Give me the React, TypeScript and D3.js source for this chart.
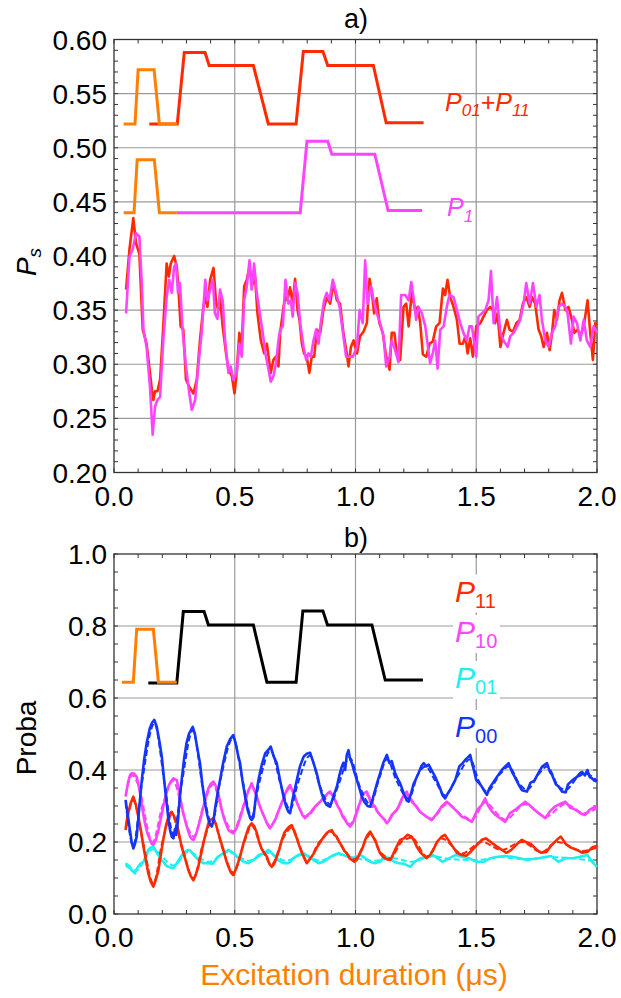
import React from "react";
import * as d3 from "d3";

// ---------- data (t in µs, value) ----------
const topRed: [number, number][] = [
  [0.05,0.369],[0.064,0.406],[0.08,0.435],[0.091,0.412],[0.105,0.402],[0.119,0.332],[0.135,0.319],[0.149,0.292],[0.157,0.276],[0.163,0.267],[0.17,0.275],[0.18,0.275],[0.191,0.286],[0.204,0.335],[0.218,0.393],[0.227,0.381],[0.235,0.393],[0.249,0.4],[0.26,0.39],[0.268,0.366],[0.276,0.335],[0.287,0.332],[0.298,0.286],[0.312,0.279],[0.329,0.273],[0.343,0.286],[0.356,0.322],[0.37,0.353],[0.378,0.362],[0.387,0.353],[0.398,0.378],[0.412,0.389],[0.423,0.356],[0.432,0.35],[0.439,0.362],[0.45,0.335],[0.464,0.31],[0.474,0.295],[0.488,0.289],[0.499,0.273],[0.508,0.292],[0.519,0.329],[0.529,0.316],[0.539,0.372],[0.55,0.378],[0.561,0.39],[0.572,0.373],[0.584,0.381],[0.594,0.347],[0.608,0.322],[0.622,0.31],[0.633,0.319],[0.64,0.307],[0.649,0.292],[0.66,0.304],[0.671,0.307],[0.681,0.298],[0.688,0.329],[0.702,0.353],[0.71,0.362],[0.718,0.359],[0.729,0.371],[0.74,0.356],[0.75,0.379],[0.76,0.35],[0.768,0.341],[0.778,0.319],[0.787,0.31],[0.798,0.307],[0.809,0.292],[0.819,0.307],[0.829,0.307],[0.84,0.332],[0.854,0.329],[0.867,0.35],[0.881,0.362],[0.895,0.356],[0.909,0.375],[0.923,0.359],[0.936,0.356],[0.95,0.329],[0.964,0.31],[0.971,0.298],[0.981,0.316],[0.992,0.322],[1.006,0.31],[1.019,0.326],[1.033,0.33],[1.047,0.338],[1.058,0.379],[1.068,0.366],[1.077,0.347],[1.088,0.361],[1.099,0.338],[1.113,0.329],[1.127,0.307],[1.141,0.295],[1.15,0.329],[1.161,0.329],[1.171,0.31],[1.185,0.304],[1.199,0.353],[1.21,0.356],[1.22,0.335],[1.233,0.366],[1.247,0.35],[1.258,0.353],[1.268,0.338],[1.279,0.309],[1.293,0.307],[1.307,0.319],[1.32,0.321],[1.334,0.335],[1.348,0.338],[1.362,0.37],[1.371,0.364],[1.381,0.378],[1.392,0.362],[1.406,0.353],[1.42,0.341],[1.431,0.319],[1.445,0.319],[1.455,0.326],[1.464,0.31],[1.475,0.324],[1.486,0.307],[1.5,0.335],[1.517,0.338],[1.53,0.344],[1.544,0.35],[1.558,0.353],[1.569,0.35],[1.578,0.338],[1.588,0.347],[1.6,0.316],[1.613,0.329],[1.627,0.341],[1.638,0.332],[1.652,0.33],[1.666,0.338],[1.68,0.341],[1.693,0.356],[1.707,0.362],[1.721,0.353],[1.731,0.362],[1.744,0.356],[1.758,0.332],[1.769,0.326],[1.779,0.316],[1.793,0.329],[1.804,0.313],[1.814,0.329],[1.823,0.35],[1.834,0.341],[1.845,0.359],[1.855,0.366],[1.869,0.35],[1.882,0.353],[1.896,0.341],[1.906,0.329],[1.92,0.332],[1.931,0.326],[1.945,0.335],[1.961,0.359],[1.972,0.329],[1.983,0.304],[1.993,0.338],[2.0,0.336]
];

const topPink: [number, number][] = [
  [0.05,0.347],[0.064,0.399],[0.077,0.406],[0.091,0.421],[0.105,0.418],[0.115,0.375],[0.122,0.332],[0.135,0.316],[0.149,0.279],[0.16,0.235],[0.17,0.261],[0.18,0.267],[0.191,0.27],[0.204,0.322],[0.218,0.362],[0.229,0.378],[0.239,0.366],[0.249,0.39],[0.257,0.393],[0.265,0.366],[0.273,0.375],[0.285,0.329],[0.298,0.298],[0.312,0.273],[0.322,0.258],[0.336,0.267],[0.349,0.298],[0.363,0.329],[0.378,0.378],[0.387,0.359],[0.398,0.369],[0.409,0.378],[0.418,0.347],[0.428,0.342],[0.439,0.369],[0.45,0.359],[0.46,0.322],[0.474,0.292],[0.483,0.298],[0.494,0.286],[0.508,0.292],[0.519,0.319],[0.529,0.307],[0.539,0.359],[0.55,0.372],[0.561,0.396],[0.57,0.369],[0.58,0.393],[0.591,0.366],[0.602,0.35],[0.616,0.329],[0.627,0.31],[0.64,0.295],[0.649,0.284],[0.66,0.289],[0.671,0.301],[0.681,0.322],[0.688,0.332],[0.699,0.335],[0.71,0.378],[0.722,0.356],[0.732,0.359],[0.74,0.344],[0.75,0.375],[0.76,0.366],[0.771,0.338],[0.785,0.316],[0.796,0.304],[0.805,0.31],[0.815,0.307],[0.826,0.322],[0.837,0.332],[0.847,0.319],[0.856,0.338],[0.87,0.359],[0.881,0.366],[0.892,0.359],[0.906,0.378],[0.92,0.366],[0.934,0.353],[0.948,0.329],[0.961,0.307],[0.975,0.307],[0.989,0.307],[1.006,0.316],[1.017,0.35],[1.03,0.338],[1.04,0.396],[1.05,0.356],[1.064,0.372],[1.075,0.359],[1.088,0.347],[1.102,0.338],[1.116,0.326],[1.127,0.298],[1.141,0.307],[1.15,0.322],[1.164,0.313],[1.178,0.302],[1.189,0.364],[1.206,0.364],[1.22,0.359],[1.231,0.376],[1.24,0.362],[1.251,0.341],[1.261,0.353],[1.275,0.347],[1.289,0.335],[1.3,0.316],[1.309,0.301],[1.32,0.31],[1.33,0.322],[1.34,0.296],[1.351,0.332],[1.365,0.335],[1.378,0.353],[1.389,0.364],[1.406,0.362],[1.42,0.35],[1.434,0.338],[1.447,0.329],[1.461,0.322],[1.472,0.335],[1.482,0.335],[1.5,0.307],[1.509,0.344],[1.523,0.347],[1.537,0.35],[1.551,0.359],[1.561,0.386],[1.572,0.338],[1.586,0.362],[1.6,0.329],[1.613,0.322],[1.63,0.316],[1.641,0.326],[1.655,0.329],[1.669,0.335],[1.682,0.341],[1.696,0.356],[1.707,0.375],[1.721,0.356],[1.735,0.375],[1.749,0.353],[1.762,0.364],[1.772,0.341],[1.786,0.322],[1.8,0.316],[1.813,0.329],[1.827,0.335],[1.841,0.353],[1.855,0.356],[1.869,0.353],[1.878,0.347],[1.892,0.319],[1.903,0.344],[1.917,0.338],[1.931,0.322],[1.945,0.341],[1.958,0.322],[1.972,0.316],[1.986,0.335],[2.0,0.329]
];

// pulse schematics
const pulseOrangeTop: [number, number][] = [[0.04,0.522],[0.087,0.522],[0.1,0.572],[0.166,0.572],[0.188,0.522],[0.262,0.522]];
const pulseRedTop: [number, number][] = [[0.146,0.522],[0.262,0.522],[0.291,0.588],[0.377,0.588],[0.394,0.576],[0.577,0.576],[0.639,0.522],[0.754,0.522],[0.784,0.589],[0.865,0.589],[0.885,0.576],[1.074,0.576],[1.127,0.523],[1.282,0.523]];
const pulseOrangeP1: [number, number][] = [[0.04,0.44],[0.083,0.44],[0.096,0.489],[0.167,0.489],[0.188,0.44],[0.26,0.44]];
const pulsePinkP1: [number, number][] = [[0.26,0.44],[0.771,0.44],[0.799,0.506],[0.885,0.506],[0.902,0.494],[1.08,0.494],[1.135,0.442],[1.276,0.442]];
const pulseOrangeBot: [number, number][] = [[0.033,0.644],[0.08,0.644],[0.094,0.791],[0.163,0.791],[0.184,0.644],[0.26,0.644]];
const pulseBlackBot: [number, number][] = [[0.142,0.642],[0.26,0.642],[0.287,0.84],[0.373,0.84],[0.391,0.803],[0.577,0.803],[0.633,0.644],[0.754,0.644],[0.782,0.842],[0.865,0.842],[0.884,0.803],[1.068,0.803],[1.123,0.65],[1.279,0.65]];

const p00: [number, number][] = [
  [0.048,0.317],[0.056,0.28],[0.066,0.233],[0.073,0.2],[0.08,0.182],[0.087,0.195],[0.094,0.215],[0.104,0.29],[0.115,0.372],[0.125,0.43],[0.135,0.474],[0.148,0.515],[0.158,0.532],[0.167,0.539],[0.177,0.52],[0.188,0.48],[0.198,0.437],[0.208,0.37],[0.218,0.307],[0.225,0.265],[0.232,0.233],[0.239,0.215],[0.246,0.21],[0.252,0.235],[0.258,0.22],[0.265,0.26],[0.272,0.32],[0.28,0.372],[0.29,0.43],[0.3,0.474],[0.31,0.5],[0.318,0.51],[0.326,0.52],[0.335,0.5],[0.345,0.46],[0.356,0.419],[0.366,0.36],[0.377,0.307],[0.386,0.275],[0.395,0.252],[0.405,0.243],[0.412,0.26],[0.42,0.3],[0.43,0.34],[0.439,0.372],[0.452,0.42],[0.467,0.465],[0.48,0.485],[0.494,0.497],[0.505,0.47],[0.514,0.44],[0.522,0.419],[0.532,0.37],[0.543,0.326],[0.553,0.29],[0.564,0.266],[0.57,0.261],[0.578,0.27],[0.588,0.33],[0.598,0.372],[0.612,0.415],[0.626,0.446],[0.638,0.455],[0.649,0.465],[0.66,0.44],[0.674,0.419],[0.688,0.37],[0.702,0.326],[0.712,0.3],[0.722,0.284],[0.729,0.28],[0.74,0.32],[0.757,0.372],[0.77,0.41],[0.785,0.437],[0.798,0.445],[0.812,0.448],[0.826,0.42],[0.84,0.39],[0.85,0.36],[0.86,0.335],[0.87,0.315],[0.88,0.303],[0.895,0.298],[0.91,0.33],[0.923,0.354],[0.933,0.385],[0.943,0.409],[0.95,0.42],[0.957,0.4],[0.964,0.442],[0.971,0.455],[0.978,0.43],[0.985,0.419],[0.995,0.395],[1.006,0.372],[1.016,0.35],[1.026,0.326],[1.038,0.31],[1.05,0.3],[1.061,0.298],[1.071,0.32],[1.081,0.344],[1.092,0.37],[1.102,0.391],[1.115,0.42],[1.13,0.442],[1.14,0.42],[1.15,0.425],[1.165,0.39],[1.175,0.375],[1.185,0.363],[1.2,0.335],[1.212,0.315],[1.22,0.312],[1.232,0.34],[1.24,0.36],[1.25,0.375],[1.261,0.391],[1.272,0.41],[1.282,0.419],[1.293,0.41],[1.303,0.415],[1.315,0.4],[1.33,0.381],[1.35,0.35],[1.36,0.33],[1.371,0.321],[1.382,0.335],[1.392,0.345],[1.413,0.372],[1.43,0.41],[1.445,0.42],[1.454,0.428],[1.465,0.435],[1.475,0.442],[1.482,0.42],[1.49,0.4],[1.5,0.372],[1.51,0.365],[1.523,0.354],[1.535,0.34],[1.544,0.331],[1.555,0.35],[1.565,0.36],[1.575,0.37],[1.59,0.385],[1.606,0.4],[1.62,0.41],[1.634,0.419],[1.648,0.395],[1.66,0.38],[1.675,0.36],[1.689,0.344],[1.71,0.34],[1.725,0.365],[1.74,0.37],[1.752,0.385],[1.772,0.409],[1.793,0.419],[1.805,0.395],[1.815,0.385],[1.83,0.36],[1.84,0.355],[1.855,0.34],[1.87,0.338],[1.88,0.36],[1.895,0.37],[1.917,0.381],[1.928,0.39],[1.938,0.395],[1.95,0.385],[1.96,0.4],[1.97,0.38],[1.979,0.377],[1.99,0.37],[2.0,0.368]
];
const p00Sim: [number, number][] = [[0.048,0.31],[0.08,0.19],[0.115,0.36],[0.167,0.53],[0.21,0.36],[0.246,0.22],[0.28,0.36],[0.326,0.51],[0.37,0.34],[0.405,0.25],[0.44,0.37],[0.494,0.49],[0.53,0.38],[0.57,0.27],[0.6,0.36],[0.649,0.455],[0.69,0.36],[0.729,0.29],[0.76,0.36],[0.812,0.44],[0.85,0.36],[0.895,0.305],[0.93,0.36],[0.975,0.435],[1.02,0.35],[1.061,0.305],[1.1,0.38],[1.13,0.43],[1.17,0.37],[1.22,0.32],[1.26,0.39],[1.29,0.41],[1.33,0.37],[1.371,0.33],[1.42,0.38],[1.475,0.43],[1.51,0.37],[1.544,0.34],[1.6,0.39],[1.634,0.41],[1.68,0.36],[1.71,0.345],[1.76,0.39],[1.793,0.41],[1.84,0.355],[1.87,0.345],[1.92,0.38],[1.95,0.39],[2.0,0.37]];

const p10: [number, number][] = [
  [0.048,0.326],[0.059,0.368],[0.066,0.385],[0.073,0.391],[0.083,0.39],[0.094,0.381],[0.101,0.36],[0.108,0.335],[0.118,0.29],[0.128,0.252],[0.138,0.225],[0.149,0.206],[0.156,0.195],[0.163,0.192],[0.173,0.205],[0.184,0.233],[0.194,0.265],[0.204,0.298],[0.215,0.33],[0.225,0.354],[0.235,0.368],[0.246,0.377],[0.26,0.372],[0.267,0.35],[0.273,0.326],[0.284,0.29],[0.294,0.261],[0.305,0.235],[0.315,0.215],[0.322,0.208],[0.329,0.206],[0.339,0.22],[0.349,0.243],[0.36,0.27],[0.37,0.298],[0.38,0.325],[0.391,0.349],[0.401,0.362],[0.412,0.368],[0.422,0.355],[0.432,0.335],[0.443,0.3],[0.453,0.27],[0.464,0.25],[0.474,0.233],[0.484,0.228],[0.494,0.224],[0.505,0.235],[0.515,0.252],[0.526,0.275],[0.536,0.298],[0.547,0.322],[0.557,0.344],[0.565,0.355],[0.57,0.363],[0.58,0.345],[0.591,0.326],[0.601,0.305],[0.612,0.285],[0.622,0.27],[0.633,0.252],[0.646,0.238],[0.656,0.248],[0.667,0.261],[0.678,0.28],[0.688,0.298],[0.698,0.315],[0.709,0.335],[0.72,0.35],[0.729,0.358],[0.74,0.34],[0.75,0.325],[0.76,0.305],[0.771,0.289],[0.78,0.275],[0.791,0.266],[0.801,0.275],[0.812,0.28],[0.822,0.29],[0.833,0.298],[0.843,0.305],[0.854,0.312],[0.864,0.32],[0.874,0.326],[0.885,0.335],[0.895,0.34],[0.905,0.33],[0.915,0.315],[0.926,0.3],[0.936,0.289],[0.947,0.27],[0.957,0.261],[0.967,0.25],[0.978,0.243],[0.99,0.255],[1.0,0.27],[1.013,0.298],[1.023,0.32],[1.033,0.335],[1.047,0.34],[1.058,0.32],[1.068,0.298],[1.08,0.3],[1.09,0.285],[1.109,0.27],[1.12,0.262],[1.13,0.252],[1.14,0.26],[1.15,0.275],[1.171,0.289],[1.18,0.3],[1.19,0.318],[1.2,0.33],[1.212,0.34],[1.222,0.325],[1.235,0.31],[1.254,0.298],[1.265,0.285],[1.275,0.28],[1.295,0.27],[1.316,0.261],[1.337,0.279],[1.348,0.29],[1.358,0.3],[1.378,0.312],[1.39,0.305],[1.4,0.298],[1.42,0.285],[1.441,0.27],[1.46,0.265],[1.482,0.256],[1.495,0.275],[1.505,0.29],[1.523,0.303],[1.537,0.321],[1.55,0.3],[1.565,0.285],[1.58,0.275],[1.599,0.266],[1.62,0.256],[1.64,0.28],[1.661,0.289],[1.68,0.3],[1.703,0.312],[1.72,0.303],[1.74,0.29],[1.76,0.28],[1.786,0.266],[1.805,0.285],[1.825,0.298],[1.845,0.305],[1.869,0.312],[1.89,0.295],[1.91,0.29],[1.931,0.28],[1.95,0.275],[1.97,0.29],[1.993,0.298],[2.0,0.3]
];
const p10Sim: [number, number][] = [[0.048,0.33],[0.075,0.385],[0.1,0.36],[0.16,0.2],[0.2,0.3],[0.245,0.37],[0.29,0.27],[0.33,0.215],[0.37,0.3],[0.41,0.36],[0.45,0.28],[0.494,0.23],[0.53,0.29],[0.57,0.355],[0.61,0.29],[0.646,0.245],[0.69,0.3],[0.729,0.35],[0.77,0.29],[0.795,0.27],[0.85,0.31],[0.895,0.335],[0.94,0.285],[0.978,0.25],[1.02,0.31],[1.047,0.33],[1.09,0.285],[1.13,0.26],[1.17,0.29],[1.212,0.33],[1.26,0.29],[1.316,0.265],[1.378,0.305],[1.44,0.275],[1.482,0.262],[1.537,0.31],[1.6,0.27],[1.62,0.262],[1.703,0.305],[1.786,0.27],[1.869,0.305],[1.95,0.28],[2.0,0.295]];

const p11: [number, number][] = [
  [0.048,0.233],[0.055,0.27],[0.062,0.289],[0.07,0.31],[0.08,0.326],[0.09,0.305],[0.101,0.27],[0.112,0.23],[0.122,0.187],[0.132,0.15],[0.142,0.113],[0.152,0.09],[0.163,0.076],[0.173,0.095],[0.184,0.122],[0.194,0.165],[0.204,0.206],[0.215,0.245],[0.225,0.27],[0.232,0.28],[0.239,0.284],[0.25,0.27],[0.26,0.252],[0.27,0.22],[0.28,0.187],[0.294,0.155],[0.308,0.122],[0.318,0.105],[0.329,0.094],[0.339,0.11],[0.349,0.131],[0.36,0.165],[0.37,0.196],[0.38,0.225],[0.391,0.252],[0.401,0.262],[0.412,0.266],[0.422,0.25],[0.432,0.225],[0.443,0.2],[0.453,0.178],[0.464,0.15],[0.474,0.131],[0.484,0.115],[0.494,0.108],[0.505,0.125],[0.515,0.145],[0.526,0.17],[0.536,0.196],[0.547,0.22],[0.557,0.24],[0.57,0.252],[0.58,0.245],[0.591,0.226],[0.601,0.2],[0.612,0.18],[0.622,0.17],[0.633,0.159],[0.643,0.14],[0.653,0.131],[0.664,0.14],[0.674,0.159],[0.685,0.18],[0.695,0.206],[0.705,0.225],[0.715,0.235],[0.726,0.243],[0.736,0.247],[0.747,0.228],[0.757,0.21],[0.767,0.19],[0.778,0.17],[0.788,0.155],[0.798,0.141],[0.808,0.15],[0.819,0.16],[0.829,0.17],[0.84,0.185],[0.85,0.195],[0.86,0.206],[0.87,0.215],[0.881,0.225],[0.891,0.23],[0.902,0.233],[0.912,0.22],[0.922,0.215],[0.933,0.2],[0.943,0.19],[0.954,0.175],[0.964,0.169],[0.975,0.155],[0.985,0.15],[0.995,0.145],[1.005,0.15],[1.019,0.169],[1.03,0.185],[1.04,0.206],[1.05,0.22],[1.061,0.229],[1.072,0.215],[1.082,0.205],[1.092,0.185],[1.102,0.169],[1.115,0.158],[1.13,0.152],[1.144,0.15],[1.155,0.165],[1.165,0.18],[1.185,0.206],[1.2,0.21],[1.215,0.22],[1.233,0.215],[1.245,0.2],[1.255,0.185],[1.27,0.17],[1.295,0.155],[1.31,0.165],[1.32,0.175],[1.337,0.2],[1.357,0.215],[1.37,0.22],[1.38,0.21],[1.4,0.19],[1.42,0.17],[1.44,0.164],[1.46,0.162],[1.48,0.175],[1.5,0.19],[1.523,0.206],[1.54,0.21],[1.56,0.2],[1.58,0.19],[1.606,0.178],[1.625,0.17],[1.645,0.178],[1.67,0.195],[1.689,0.206],[1.705,0.2],[1.725,0.195],[1.751,0.178],[1.77,0.17],[1.79,0.172],[1.81,0.19],[1.834,0.206],[1.85,0.215],[1.87,0.195],[1.89,0.185],[1.917,0.178],[1.94,0.17],[1.96,0.172],[1.98,0.185],[2.0,0.19]
];
const p11Sim: [number, number][] = [[0.048,0.24],[0.08,0.315],[0.12,0.2],[0.163,0.085],[0.2,0.2],[0.239,0.275],[0.28,0.19],[0.329,0.1],[0.37,0.2],[0.41,0.26],[0.45,0.18],[0.494,0.115],[0.54,0.2],[0.57,0.245],[0.61,0.185],[0.653,0.138],[0.7,0.21],[0.736,0.24],[0.78,0.17],[0.8,0.148],[0.85,0.2],[0.9,0.228],[0.95,0.18],[0.995,0.152],[1.04,0.2],[1.061,0.222],[1.1,0.175],[1.144,0.155],[1.19,0.2],[1.233,0.212],[1.295,0.16],[1.357,0.21],[1.44,0.168],[1.523,0.2],[1.606,0.178],[1.689,0.2],[1.77,0.172],[1.834,0.2],[1.94,0.175],[2.0,0.185]];

const p01: [number, number][] = [
  [0.048,0.141],[0.058,0.135],[0.066,0.131],[0.075,0.12],[0.087,0.113],[0.094,0.125],[0.1,0.131],[0.11,0.14],[0.122,0.145],[0.132,0.16],[0.142,0.178],[0.152,0.185],[0.163,0.187],[0.173,0.175],[0.184,0.164],[0.194,0.152],[0.204,0.145],[0.215,0.135],[0.225,0.131],[0.246,0.127],[0.26,0.141],[0.277,0.159],[0.29,0.172],[0.308,0.178],[0.318,0.175],[0.329,0.165],[0.35,0.15],[0.37,0.141],[0.391,0.141],[0.41,0.14],[0.43,0.159],[0.45,0.168],[0.474,0.178],[0.494,0.169],[0.515,0.155],[0.536,0.145],[0.557,0.141],[0.578,0.15],[0.6,0.164],[0.62,0.169],[0.64,0.178],[0.66,0.164],[0.68,0.15],[0.702,0.141],[0.722,0.141],[0.743,0.155],[0.764,0.164],[0.785,0.169],[0.805,0.159],[0.826,0.15],[0.847,0.141],[0.868,0.145],[0.888,0.155],[0.91,0.164],[0.93,0.169],[0.95,0.164],[0.97,0.159],[0.99,0.155],[1.0,0.159],[1.02,0.164],[1.04,0.155],[1.06,0.145],[1.08,0.141],[1.1,0.145],[1.12,0.159],[1.14,0.155],[1.16,0.145],[1.18,0.141],[1.2,0.14],[1.227,0.131],[1.245,0.145],[1.27,0.155],[1.3,0.159],[1.32,0.164],[1.34,0.155],[1.36,0.145],[1.39,0.155],[1.415,0.164],[1.44,0.159],[1.47,0.155],[1.5,0.145],[1.53,0.145],[1.56,0.155],[1.59,0.159],[1.62,0.161],[1.65,0.159],[1.68,0.155],[1.71,0.15],[1.73,0.152],[1.76,0.155],[1.79,0.159],[1.81,0.161],[1.84,0.145],[1.87,0.155],[1.9,0.155],[1.93,0.159],[1.96,0.164],[1.98,0.145],[2.0,0.131]
];
const p01Sim: [number, number][] = [[0.048,0.135],[0.09,0.12],[0.16,0.18],[0.246,0.135],[0.308,0.172],[0.391,0.145],[0.474,0.172],[0.557,0.148],[0.64,0.17],[0.71,0.148],[0.785,0.165],[0.85,0.148],[0.93,0.165],[1.0,0.155],[1.08,0.148],[1.16,0.155],[1.23,0.145],[1.32,0.16],[1.4,0.152],[1.5,0.15],[1.6,0.158],[1.7,0.152],[1.8,0.158],[1.9,0.155],[2.0,0.145]];

const topYTicks = [0.2, 0.25, 0.3, 0.35, 0.4, 0.45, 0.5, 0.55, 0.6];
const botYTicks = [0, 0.2, 0.4, 0.6, 0.8, 1.0];
const xTicks = [0, 0.5, 1.0, 1.5, 2.0];

// ---------- layout ----------
const W = 621, H = 998;
const FONT = "'Liberation Sans', Arial, Helvetica, sans-serif";
const C_RED = "#ff2a00", C_PINK = "#ff44ff", C_ORANGE = "#ff8000", C_BLUE = "#1435ff", C_CYAN = "#1ef0f0";

const x = d3.scaleLinear().domain([0, 2]).range([114, 597]);
const yT = d3.scaleLinear().domain([0.2, 0.6]).range([472.5, 39.5]);
const yB = d3.scaleLinear().domain([0, 1]).range([914, 554]);

function Frame({ y, yMinor, yMajor, fmt }: { y: d3.ScaleLinear<number, number>; yMinor: number[]; yMajor: number[]; fmt: (v: number) => string }) {
  const [y0, y1] = y.range();
  const xMinor = d3.range(0, 2.0001, 0.1);
  return (
    <g>
      {/* grid */}
      {[0.5, 1.0, 1.5].map((t) => (
        <line key={"gx" + t} x1={x(t)} x2={x(t)} y1={y1} y2={y0} stroke="#9a9a9a" strokeWidth={1.2} />
      ))}
      {yMajor.slice(1, -1).map((v) => (
        <line key={"gy" + v} x1={x(0)} x2={x(2)} y1={y(v)} y2={y(v)} stroke="#9a9a9a" strokeWidth={1.2} />
      ))}
      {/* ticks */}
      {yMinor.map((v, i) => (
        <g key={"ty" + i}>
          <line x1={x(0)} x2={x(0) + 4} y1={y(v)} y2={y(v)} stroke="#333" strokeWidth={1} />
          <line x1={x(2)} x2={x(2) - 4} y1={y(v)} y2={y(v)} stroke="#333" strokeWidth={1} />
        </g>
      ))}
      {xMinor.map((t, i) => (
        <g key={"tx" + i}>
          <line x1={x(t)} x2={x(t)} y1={y0} y2={y0 - 4} stroke="#333" strokeWidth={1} />
          <line x1={x(t)} x2={x(t)} y1={y1} y2={y1 + 4} stroke="#333" strokeWidth={1} />
        </g>
      ))}
      <rect x={x(0)} y={y1} width={x(2) - x(0)} height={y0 - y1} fill="none" stroke="#333" strokeWidth={1.3} />
      {/* labels */}
      {yMajor.map((v) => (
        <text key={"ly" + v} x={107} y={y(v)} dy="0.36em" textAnchor="end" fontSize={28} fontFamily={FONT} fill="#000">
          {fmt(v)}
        </text>
      ))}
      {xTicks.map((t) => (
        <text key={"lx" + t} x={x(t)} y={y0 + 33} textAnchor="middle" fontSize={28} fontFamily={FONT} fill="#000">
          {t.toFixed(1)}
        </text>
      ))}
    </g>
  );
}

export default function App() {
  const lineT = d3.line<[number, number]>().x((d) => x(d[0])).y((d) => yT(d[1]));
  const lineB = d3.line<[number, number]>().x((d) => x(d[0])).y((d) => yB(d[1]));
  const simB = d3.line<[number, number]>().x((d) => x(d[0])).y((d) => yB(d[1])).curve(d3.curveMonotoneX);

  const topMinor = d3.range(0.2, 0.6001, 0.01);
  const botMinor = d3.range(0, 1.0001, 0.05);

  const legendB = [
    { sub: "11", color: C_RED, base: 601.5 },
    { sub: "10", color: C_PINK, base: 642 },
    { sub: "01", color: C_CYAN, base: 688 },
    { sub: "00", color: C_BLUE, base: 737 },
  ];

  const series = [
    { d: p01, s: p01Sim, c: C_CYAN },
    { d: p11, s: p11Sim, c: C_RED },
    { d: p10, s: p10Sim, c: C_PINK },
    { d: p00, s: p00Sim, c: C_BLUE },
  ];

  return (
    <svg width={W} height={H} style={{ position: "absolute", left: 0, top: 0, background: "#fff" }}>
      <rect x={0} y={0} width={W} height={H} fill="#fff" />
      {/* ---------- panel a ---------- */}
      <text x={356} y={28} textAnchor="middle" fontSize={27} fontFamily={FONT}>a)</text>
      <Frame y={yT} yMinor={topMinor} yMajor={topYTicks} fmt={(v) => v.toFixed(2)} />
      <path d={lineT(topRed) || ""} fill="none" stroke={C_RED} strokeWidth={2.6} strokeLinejoin="round" />
      <path d={lineT(topPink) || ""} fill="none" stroke={C_PINK} strokeWidth={2.6} strokeLinejoin="round" />
      <path d={lineT(pulseRedTop) || ""} fill="none" stroke={C_RED} strokeWidth={3} />
      <path d={lineT(pulseOrangeTop) || ""} fill="none" stroke={C_ORANGE} strokeWidth={3} />
      <path d={lineT(pulsePinkP1) || ""} fill="none" stroke={C_PINK} strokeWidth={3} />
      <path d={lineT(pulseOrangeP1) || ""} fill="none" stroke={C_ORANGE} strokeWidth={3} />
      <text x={445} y={111} fontSize={25} fontFamily={FONT} fontStyle="italic" fill={C_RED}>
        P<tspan fontSize={17} dy={5}>01</tspan><tspan dy={-5}>+P</tspan><tspan fontSize={17} dy={5}>11</tspan>
      </text>
      <text x={447} y={216} fontSize={25} fontFamily={FONT} fontStyle="italic" fill={C_PINK}>
        P<tspan fontSize={17} dy={6}>1</tspan>
      </text>
      <text transform="translate(36,262) rotate(-90)" textAnchor="middle" fontSize={28} fontFamily={FONT} fontStyle="italic">
        P<tspan fontSize={19} dy={5}>s</tspan>
      </text>

      {/* ---------- panel b ---------- */}
      <text x={356} y={547} textAnchor="middle" fontSize={27} fontFamily={FONT}>b)</text>
      <Frame y={yB} yMinor={botMinor} yMajor={botYTicks} fmt={(v) => v.toFixed(1)} />
      {legendB.map((l) => (
        <rect key={"bg" + l.sub} x={453} y={l.base - 27} width={47} height={38} fill="#fff" />
      ))}
      {series.map((s, i) => (
        <g key={"s" + i}>
          <path d={lineB(s.d) || ""} fill="none" stroke={s.c} strokeWidth={2.6} strokeLinejoin="round" />
          <path d={simB(s.s) || ""} fill="none" stroke={s.c} strokeWidth={2} strokeDasharray="6 3" />
        </g>
      ))}
      <path d={lineB(pulseBlackBot) || ""} fill="none" stroke="#000" strokeWidth={3} />
      <path d={lineB(pulseOrangeBot) || ""} fill="none" stroke={C_ORANGE} strokeWidth={3} />
      {legendB.map((l) => (
        <text key={"lg" + l.sub} x={455} y={l.base} fontSize={30} fontFamily={FONT} fill={l.color}>
          <tspan fontStyle="italic">P</tspan>
          <tspan fontSize={20} dy={6}>{l.sub}</tspan>
        </text>
      ))}
      <text transform="translate(36,738) rotate(-90)" textAnchor="middle" fontSize={28} fontFamily={FONT}>Proba</text>
      <text x={354} y={985} textAnchor="middle" fontSize={30} fontFamily={FONT} fill={C_ORANGE}>Excitation duration (μs)</text>
    </svg>
  );
}
